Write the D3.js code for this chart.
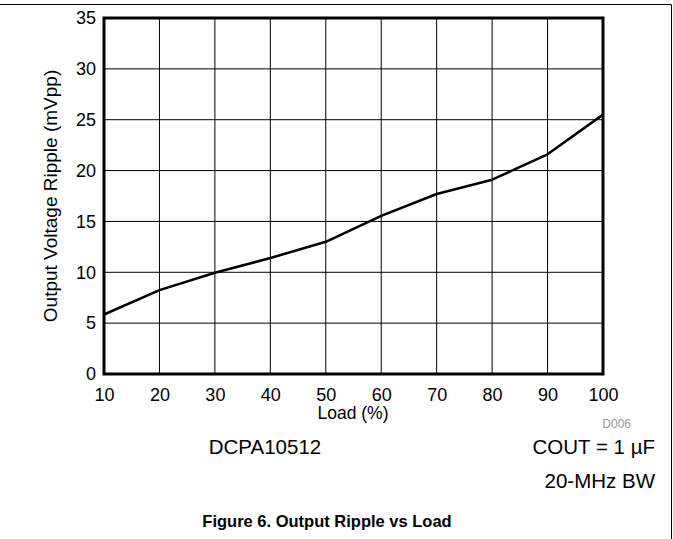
<!DOCTYPE html>
<html><head><meta charset="utf-8">
<script src="https://cdn.jsdelivr.net/npm/d3@7/dist/d3.min.js"></script>
<style>body{margin:0;background:#fff}svg{display:block;font-family:"Liberation Sans",Arial,sans-serif}</style>
</head><body><svg id="c" width="673" height="539"></svg>
<script>
const loads = [10, 20, 30, 40, 50, 60, 70, 80, 90, 100];
const ripple = [5.85, 8.25, 9.95, 11.4, 13.0, 15.55, 17.7, 19.1, 21.6, 25.5];
const xTicks = [10, 20, 30, 40, 50, 60, 70, 80, 90, 100];
const yTicks = [0, 5, 10, 15, 20, 25, 30, 35];

const svg = d3.select("#c");
const L = 104, R = 603, T = 18, B = 374;
const x = d3.scaleLinear().domain([10, 100]).range([L, R]);
const y = d3.scaleLinear().domain([0, 35]).range([B, T]);

// page frame lines
svg.append("line").attr("x1", 0).attr("x2", 671.5).attr("y1", 4.5).attr("y2", 4.5).attr("stroke", "#000").attr("stroke-width", 1);
svg.append("line").attr("x1", 671.5).attr("x2", 671.5).attr("y1", 4.5).attr("y2", 539).attr("stroke", "#000").attr("stroke-width", 1);

// grid
const g = svg.append("g");
g.selectAll(".vg").data(xTicks.slice(1, -1)).join("line")
  .attr("x1", d => x(d)).attr("x2", d => x(d)).attr("y1", T).attr("y2", B)
  .attr("stroke", "#000").attr("stroke-width", 1);
g.selectAll(".hg").data(yTicks.slice(1, -1)).join("line")
  .attr("x1", L).attr("x2", R).attr("y1", d => y(d)).attr("y2", d => y(d))
  .attr("stroke", "#000").attr("stroke-width", 1);

// axes labels via d3 axes
const xAxis = d3.axisBottom(x).tickValues(xTicks).tickSize(0).tickPadding(14);
const ax = svg.append("g").attr("transform", `translate(0,${B})`).call(xAxis);
const yAxis = d3.axisLeft(y).tickValues(yTicks).tickSize(0).tickPadding(8);
const ay = svg.append("g").attr("transform", `translate(${L},0)`).call(yAxis);
[ax, ay].forEach(a => {
  a.select(".domain").remove();
  a.selectAll("text").attr("font-size", 18).attr("fill", "#000").attr("font-family", "Liberation Sans, Arial, sans-serif");
});

// frame
svg.append("rect").attr("x", L).attr("y", T).attr("width", R - L).attr("height", B - T)
  .attr("fill", "none").attr("stroke", "#000").attr("stroke-width", 3);

// data line
svg.append("path").datum(loads.map((d, i) => [d, ripple[i]]))
  .attr("d", d3.line().x(d => x(d[0])).y(d => y(d[1])))
  .attr("fill", "none").attr("stroke", "#000").attr("stroke-width", 2.5).attr("stroke-linejoin", "round");

// texts
svg.append("text").attr("x", 353).attr("y", 419).attr("text-anchor", "middle").attr("font-size", 17.5).text("Load (%)");
svg.append("text").attr("transform", `translate(57,${(T + B) / 2}) rotate(-90)`).attr("text-anchor", "middle").attr("font-size", 19).text("Output Voltage Ripple (mVpp)");
svg.append("text").attr("x", 631).attr("y", 428).attr("text-anchor", "end").attr("font-size", 12).attr("fill", "#999").text("D006");
svg.append("text").attr("x", 265).attr("y", 454).attr("text-anchor", "middle").attr("font-size", 20.5).text("DCPA10512");
svg.append("text").attr("x", 655).attr("y", 454).attr("text-anchor", "end").attr("font-size", 20.5).text("COUT = 1 µF");
svg.append("text").attr("x", 655).attr("y", 488).attr("text-anchor", "end").attr("font-size", 20.5).text("20-MHz BW");
svg.append("text").attr("x", 327).attr("y", 527).attr("text-anchor", "middle").attr("font-size", 16.5).attr("font-weight", "bold").text("Figure 6. Output Ripple vs Load");
</script></body></html>
